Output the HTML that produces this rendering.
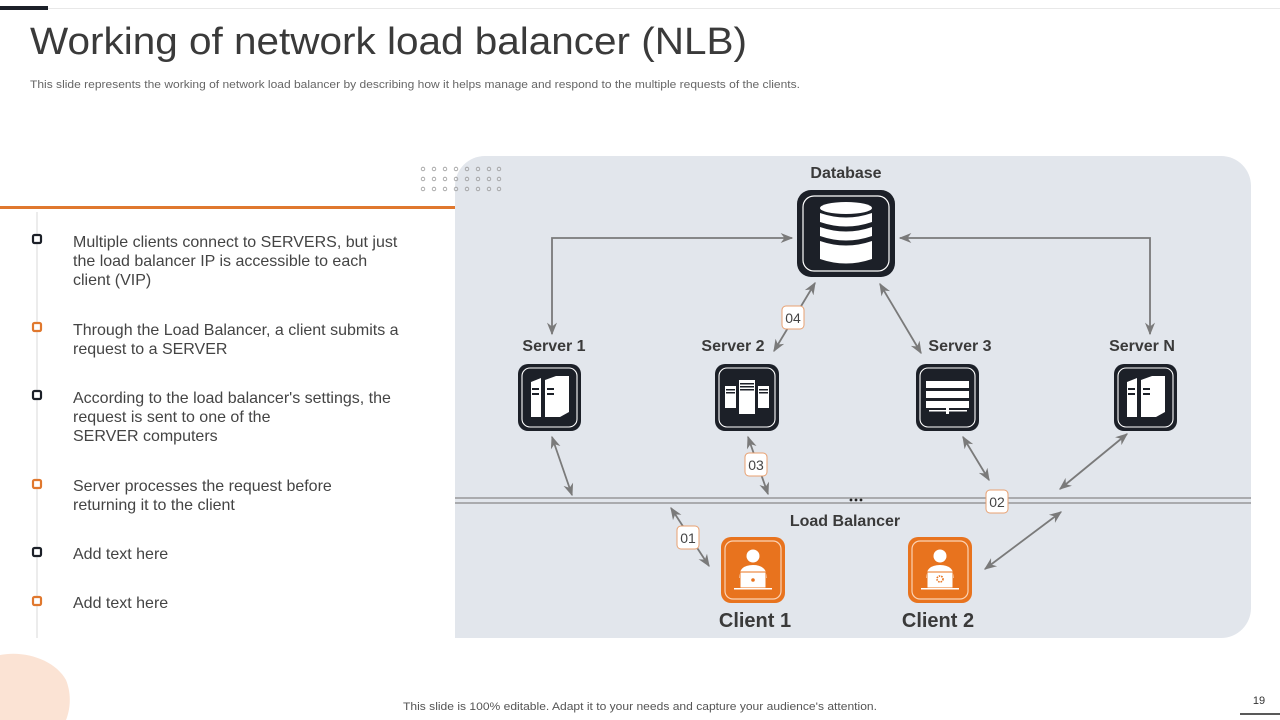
<!DOCTYPE html>
<html><head><meta charset="utf-8"><style>
html,body{margin:0;padding:0;background:#fff;}
svg{display:block;font-family:"Liberation Sans",Arial,sans-serif;}
</style></head><body>
<svg width="1280" height="720" viewBox="0 0 1280 720" xmlns="http://www.w3.org/2000/svg">
<defs>
<marker id="a" viewBox="0 0 10 10" refX="9" refY="5" markerWidth="7" markerHeight="7" orient="auto-start-reverse"><path d="M0,1 L10,5 L0,9 L3,5 z" fill="#7a7a7a"/></marker>
</defs>
<line x1="48" y1="8.5" x2="1280" y2="8.5" stroke="#e8e8e8" stroke-width="1"/>
<rect x="0" y="6" width="48" height="4" fill="#1c2028"/>
<text x="30" y="54" font-size="38" fill="#3a3a3a" textLength="717" lengthAdjust="spacingAndGlyphs">Working of network load balancer (NLB)</text>
<text x="30" y="88" font-size="11" fill="#666" textLength="770" lengthAdjust="spacingAndGlyphs">This slide represents the working of network load balancer by describing how it helps manage and respond to the multiple requests of the clients.</text>

<path d="M0,655 C25,650 55,660 66,680 C72,695 70,710 66,720 L0,720 Z" fill="#fbe3d4"/>

<rect x="455" y="156" width="796" height="482" rx="30" fill="#e2e6ec"/>
<rect x="455" y="206" width="30" height="432" fill="#e2e6ec"/>
<rect x="0" y="206" width="455" height="3" fill="#e0782e"/>
<g fill="none" stroke="#9a9a9a" stroke-width="0.8">
<g id="dr"><circle cx="423" cy="169" r="1.8"/><circle cx="434" cy="169" r="1.8"/><circle cx="445" cy="169" r="1.8"/><circle cx="456" cy="169" r="1.8"/><circle cx="467" cy="169" r="1.8"/><circle cx="478" cy="169" r="1.8"/><circle cx="489" cy="169" r="1.8"/><circle cx="499" cy="169" r="1.8"/></g>
<use href="#dr" y="10"/><use href="#dr" y="20"/>
</g>

<line x1="37" y1="212" x2="37" y2="638" stroke="#ececec" stroke-width="2"/>
<g font-size="16" fill="#444">
<text x="73" y="247">Multiple clients connect to SERVERS, but just</text>
<text x="73" y="266">the load balancer IP is accessible to each</text>
<text x="73" y="285">client (VIP)</text>
<text x="73" y="335">Through the Load Balancer, a client submits a</text>
<text x="73" y="354">request to a SERVER</text>
<text x="73" y="403">According to the load balancer's settings, the</text>
<text x="73" y="422">request is sent to one of the</text>
<text x="73" y="441">SERVER computers</text>
<text x="73" y="491">Server processes the request before</text>
<text x="73" y="510">returning it to the client</text>
<text x="73" y="559">Add text here</text>
<text x="73" y="608">Add text here</text>
</g>
<g fill="#fff" stroke-width="2.2">
<rect x="33" y="235" width="8" height="8" rx="1.5" stroke="#1c2028"/>
<rect x="33" y="323" width="8" height="8" rx="1.5" stroke="#e0782e"/>
<rect x="33" y="391" width="8" height="8" rx="1.5" stroke="#1c2028"/>
<rect x="33" y="480" width="8" height="8" rx="1.5" stroke="#e0782e"/>
<rect x="33" y="548" width="8" height="8" rx="1.5" stroke="#1c2028"/>
<rect x="33" y="597" width="8" height="8" rx="1.5" stroke="#e0782e"/>
</g>

<line x1="455" y1="498" x2="1251" y2="498" stroke="#888" stroke-width="1.3"/>
<line x1="455" y1="503" x2="1251" y2="503" stroke="#888" stroke-width="1.3"/>
<g fill="#222"><circle cx="851" cy="500" r="1.4"/><circle cx="856" cy="500" r="1.4"/><circle cx="861" cy="500" r="1.4"/></g>

<g font-size="16" font-weight="bold" fill="#3a3a3a" text-anchor="middle">
<text x="846" y="178">Database</text>
<text x="554" y="351">Server 1</text>
<text x="733" y="351">Server 2</text>
<text x="960" y="351">Server 3</text>
<text x="1142" y="351">Server N</text>
<text x="845" y="526">Load Balancer</text>
<text x="755" y="627" font-size="20">Client 1</text>
<text x="938" y="627" font-size="20">Client 2</text>
</g>

<g fill="none" stroke="#7a7a7a" stroke-width="1.8" marker-start="url(#a)" marker-end="url(#a)">
<polyline points="552,334 552,238 792,238"/>
<polyline points="1150,334 1150,238 900,238"/>
<line x1="774" y1="351" x2="815" y2="283"/>
<line x1="880" y1="284" x2="921" y2="353"/>
<line x1="552" y1="437" x2="572" y2="495"/>
<line x1="748" y1="437" x2="768" y2="494"/>
<line x1="963" y1="437" x2="989" y2="480"/>
<line x1="1127" y1="434" x2="1060" y2="489"/>
<line x1="671" y1="508" x2="709" y2="566"/>
<line x1="985" y1="569" x2="1061" y2="512"/>
</g>
<g font-size="14" fill="#444" text-anchor="middle">
<rect x="782" y="306" width="22" height="23" rx="4" fill="#fff" stroke="#e8a070"/><text x="793" y="323">04</text>
<rect x="745" y="453" width="22" height="23" rx="4" fill="#fff" stroke="#e8a070"/><text x="756" y="470">03</text>
<rect x="986" y="490" width="22" height="23" rx="4" fill="#fff" stroke="#e8a070"/><text x="997" y="507">02</text>
<rect x="677" y="526" width="22" height="23" rx="4" fill="#fff" stroke="#e8a070"/><text x="688" y="543">01</text>
</g>

<rect x="797" y="190" width="98" height="87" rx="14" fill="#1c2028"/>
<rect x="803" y="196" width="86" height="75" rx="11" fill="none" stroke="#fff" stroke-width="1.2"/>
<g fill="#fff">
<ellipse cx="846" cy="208" rx="26" ry="6"/>
<path d="M820,213 Q846,222 872,213 L872,222 Q846,231 820,222 Z"/>
<path d="M820,227 Q846,236 872,227 L872,236 Q846,245 820,236 Z"/>
<path d="M820,241 Q846,250 872,241 L872,259 Q846,268 820,259 Z"/>
</g>

<g id="s1">
<rect x="518" y="364" width="63" height="67" rx="10" fill="#1c2028"/>
<rect x="522" y="368" width="55" height="59" rx="8" fill="none" stroke="#fff" stroke-width="1.1"/>
<path d="M531,382 L541,378 L541,417 L531,417 Z" fill="#fff"/>
<path d="M545,380 L556,376 L569,376 L569,412 L560,417 L545,417 Z" fill="#fff"/>
<rect x="532" y="388" width="7" height="2" fill="#1c2028"/><rect x="532" y="393" width="7" height="2" fill="#1c2028"/>
<rect x="547" y="388" width="7" height="2" fill="#1c2028"/><rect x="547" y="393" width="7" height="2" fill="#1c2028"/>
</g>
<use href="#s1" x="596"/>
<rect x="715" y="364" width="64" height="67" rx="10" fill="#1c2028"/>
<rect x="719" y="368" width="56" height="59" rx="8" fill="none" stroke="#fff" stroke-width="1.1"/>
<g fill="#fff"><rect x="725" y="386" width="11" height="22"/><rect x="739" y="380" width="16" height="34"/><rect x="758" y="386" width="11" height="22"/></g>
<g fill="#1c2028"><rect x="726" y="389" width="9" height="1.5"/><rect x="726" y="392" width="9" height="1.5"/><rect x="740" y="383" width="14" height="1.5"/><rect x="740" y="386" width="14" height="1.5"/><rect x="740" y="389" width="14" height="1.5"/><rect x="759" y="389" width="9" height="1.5"/><rect x="759" y="392" width="9" height="1.5"/></g>
<rect x="916" y="364" width="63" height="67" rx="10" fill="#1c2028"/>
<rect x="920" y="368" width="55" height="59" rx="8" fill="none" stroke="#fff" stroke-width="1.1"/>
<g fill="#fff"><rect x="926" y="381" width="43" height="7"/><rect x="926" y="391" width="43" height="7"/><rect x="926" y="401" width="43" height="7"/><rect x="929" y="410" width="38" height="1.5"/><rect x="946" y="408" width="3" height="6"/></g>

<g id="c1">
<rect x="721" y="537" width="64" height="66" rx="10" fill="#e8731e"/>
<rect x="725" y="541" width="56" height="58" rx="8" fill="none" stroke="#fbd3b5" stroke-width="1.2"/>
<circle cx="753" cy="556" r="6.5" fill="#fff"/>
<path d="M739,578 Q739,565 753,565 Q767,565 767,578 Z" fill="#fff"/>
<rect x="740" y="572" width="26" height="16" fill="#fff" stroke="#e8731e" stroke-width="1"/>
<rect x="734" y="588" width="38" height="1.5" fill="#fff"/>
</g>
<circle cx="753" cy="580" r="1.8" fill="#e8731e"/>
<use href="#c1" x="187"/>
<circle cx="940" cy="579" r="3" fill="none" stroke="#e8731e" stroke-width="1.6" stroke-dasharray="1.5 1"/>

<text x="403" y="710" font-size="11" fill="#555" textLength="474" lengthAdjust="spacingAndGlyphs">This slide is 100% editable. Adapt it to your needs and capture your audience's attention.</text>
<text x="1259" y="704" font-size="11" fill="#333" text-anchor="middle">19</text>
<line x1="1240" y1="714" x2="1280" y2="714" stroke="#222" stroke-width="1.5"/>
</svg>
</body></html>
